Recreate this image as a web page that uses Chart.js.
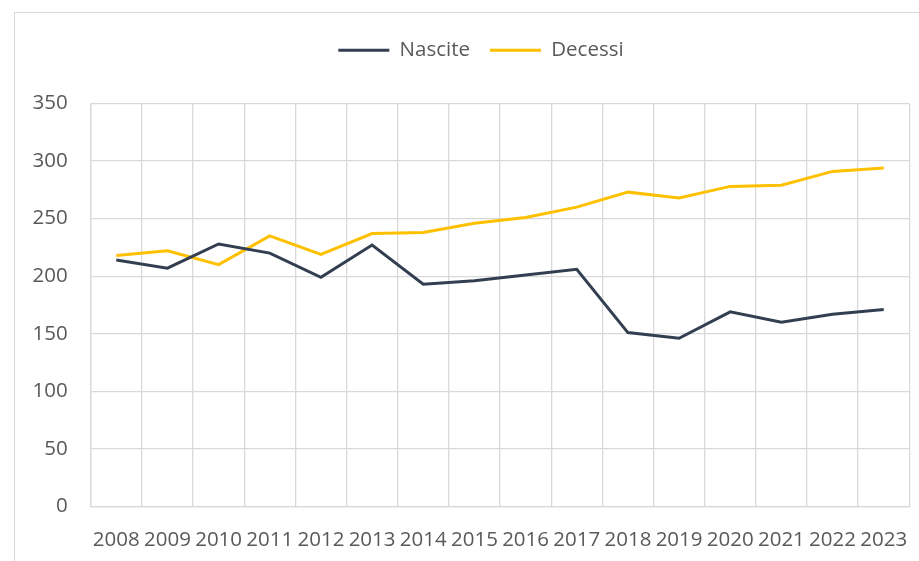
<!DOCTYPE html>
<html><head><meta charset="utf-8">
<script src="https://cdn.jsdelivr.net/npm/chart.js@4.4.1/dist/chart.umd.min.js"></script>
<style>
html,body{margin:0;padding:0;overflow:hidden;background:#fff;width:919px;height:561px;}
#frame{position:absolute;left:14px;top:12px;width:932px;height:560px;border:1px solid #D9D9D9;background:#fff;}
#c{position:absolute;left:0;top:0;}
</style></head><body>
<div id="frame"><canvas id="c" width="932" height="560" style="width:932px;height:560px"></canvas></div>
<script>
const years = ['2008','2009','2010','2011','2012','2013','2014','2015','2016','2017','2018','2019','2020','2021','2022','2023'];
const nascite = [214, 207, 228, 220, 199, 227, 193, 196, 201, 206, 151, 146, 169, 160, 167, 171];
const decessi = [218, 222, 210, 235, 219, 237, 238, 246, 251, 260, 273, 268, 278, 279, 291, 294];
const yMin = 0, yMax = 350, yStep = 50;

const gridColor = '#D9D9D9';
const textColor = '#595959';
const font = {family: "'Open Sans', 'Noto Sans', sans-serif", size: 20.5};

const legendSpacer = {
  id: 'legendSpacer',
  beforeInit(chart) {
    const lg = chart.legend;
    const orig = lg.fit;
    lg.fit = function () { orig.call(this); this.height += 33; };
  },
  afterLayout(chart) {
    chart.legend.left = 0;
    chart.legend.right = chart.width;
  }
};

new Chart(document.getElementById('c'), {
  type: 'line',
  data: {
    labels: years,
    datasets: [
      {label: 'Nascite', data: nascite, borderColor: '#333F50', backgroundColor: '#333F50', borderWidth: 3, pointRadius: 0, tension: 0},
      {label: 'Decessi', data: decessi, borderColor: '#FFC000', backgroundColor: '#FFC000', borderWidth: 3, pointRadius: 0, tension: 0}
    ]
  },
  options: {
    responsive: false,
    animation: false,
    devicePixelRatio: 1,
    layout: {padding: {left: 0, top: 7, right: 37.7, bottom: 0}},
    plugins: {
      tooltip: {enabled: false},
      legend: {
        position: 'top',
        labels: {
          color: textColor,
          font: font,
          boxWidth: 51,
          boxHeight: 3,
          padding: 20,
          generateLabels(chart) {
            return Chart.defaults.plugins.legend.labels.generateLabels(chart).map(l => Object.assign(l, {lineWidth: 0}));
          }
        }
      }
    },
    scales: {
      x: {
        offset: true,
        grid: {color: gridColor, lineWidth: 1.3, offset: true, drawTicks: false},
        border: {color: gridColor, width: 1.3},
        ticks: {color: textColor, font: font, autoSkip: false, maxRotation: 0, padding: 21}
      },
      y: {
        min: yMin, max: yMax,
        grid: {color: gridColor, lineWidth: 1.3, drawTicks: false},
        border: {color: gridColor, width: 1.3},
        ticks: {color: textColor, font: font, stepSize: yStep, padding: 23},
        afterFit(s) { s.width = 75.7; }
      }
    }
  },
  plugins: [legendSpacer]
});
</script>
</body></html>
